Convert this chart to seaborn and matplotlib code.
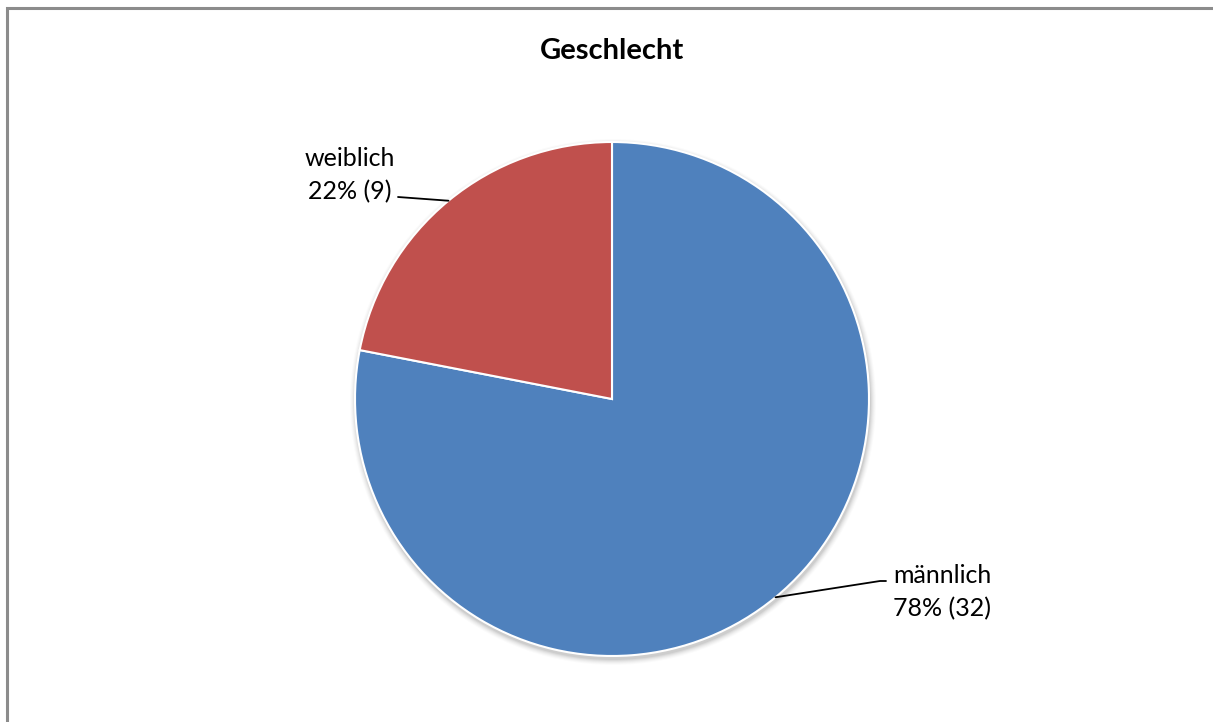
import numpy as np
import matplotlib
matplotlib.use("Agg")
import matplotlib.pyplot as plt
import seaborn as sns
from matplotlib.patches import Circle

# Gender distribution of respondents
categories = ["männlich", "weiblich"]
counts = [32, 9]
colors = ["#4F81BD", "#C0504D"]
title = "Geschlecht"

sns.set_theme(style="white")
plt.rcParams["font.family"] = ["Lato", "DejaVu Sans"]

W, H = 1213, 722
fig = plt.figure(figsize=(W / 100, H / 100), dpi=100)
ax = fig.add_axes([0, 0, 1, 1])

cx, cy, r = 612, H - 399, 257

# soft drop shadow under the pie
for i, a in enumerate(np.linspace(0.05, 0.015, 6)):
    ax.add_patch(Circle((cx + 1, cy - 3), r + 1 + i, color="black", alpha=a,
                        lw=0, zorder=1))

wedges, _ = ax.pie(counts, colors=colors, startangle=90, counterclock=False,
                   center=(cx, cy), radius=r, frame=True,
                   wedgeprops=dict(edgecolor="white", linewidth=1.5, zorder=2))
ax.set_xlim(0, W)
ax.set_ylim(0, H)
ax.set_aspect("equal")
ax.axis("off")

total = sum(counts)
# label block centre and the point where the leader line ends
label_pos = {
    "männlich": dict(xy=(942, H - 592), end=(886, H - 581), elbow=(880, H - 581)),
    "weiblich": dict(xy=(350, H - 175), end=(398, H - 197), elbow=None),
}
for w, cat, n in zip(wedges, categories, counts):
    ang = np.deg2rad((w.theta1 + w.theta2) / 2)
    px, py = cx + r * np.cos(ang), cy + r * np.sin(ang)
    spec = label_pos[cat]
    pct = round(100 * n / total)
    ax.text(*spec["xy"], f"{cat}\n{pct}% ({n})", ha="center", va="center",
            fontsize=18, color="black", linespacing=1.5,
            multialignment="center")
    xs, ys = [px], [py]
    if spec["elbow"] is not None:
        xs.append(spec["elbow"][0]); ys.append(spec["elbow"][1])
    xs.append(spec["end"][0]); ys.append(spec["end"][1])
    ax.plot(xs, ys, color="black", lw=1.3)

ax.text(612, H - 51, title, ha="center", va="center", fontsize=21,
        fontweight="bold", color="black")

# chart frame (left and top edges visible)
ax.plot([7, 7, W + 5], [-5, H - 8, H - 8], color="#8C8C8C", lw=2.2,
        solid_joinstyle="miter")

fig.savefig("out.png", dpi=100, facecolor="white")
